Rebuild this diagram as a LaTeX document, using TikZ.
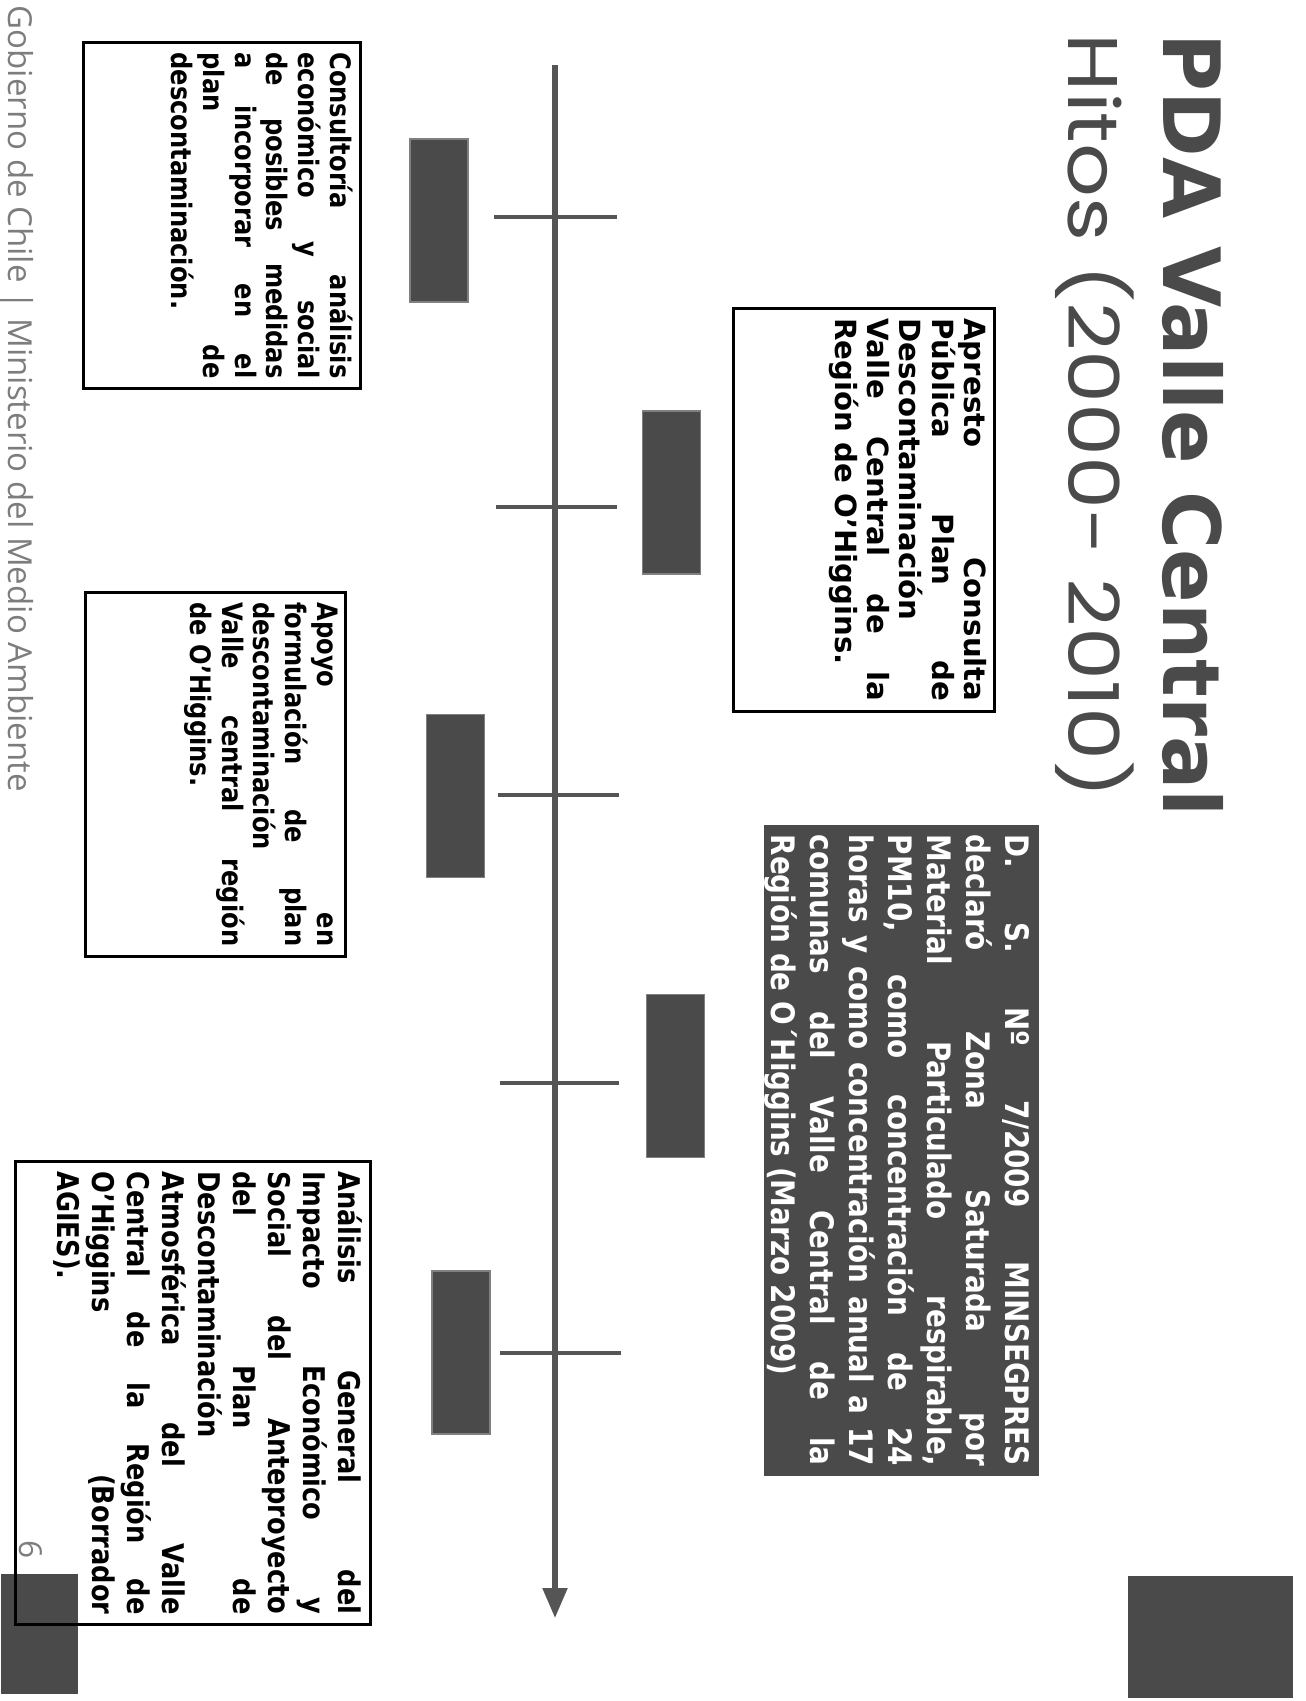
\documentclass[tikz,border=0pt]{standalone}
\usepackage{fontspec}
\setmainfont{DejaVu Sans}
\newfontfamily\tahoma{DejaVu Sans}[FakeStretch=0.86]
\newfontfamily\gothic{Poppins}[FakeStretch=1.2]
\newfontfamily\footfont{Open Sans}
\usepackage{tikz}
\usetikzlibrary{arrows.meta,shapes,positioning}
\usepackage{xcolor}
\definecolor{pdadark}{RGB}{74,74,74}
\definecolor{pdaline}{RGB}{85,85,85}
\definecolor{pdagrey}{RGB}{125,125,125}
\tikzstyle{timeline} = [line width=1.5pt,-{Triangle[length=3mm,width=2.4mm]},color=pdaline]
\tikzstyle{tick} = [line width=1.3pt,color=pdaline]
\tikzstyle{yearbox} = [rectangle, draw=pdadark!70, fill=pdadark, minimum width=1.63cm, minimum height=0.58cm, inner sep=0]
\tikzstyle{hito} = [rectangle, draw=black, thick, inner xsep=0.1cm, inner ysep=0.08cm, anchor=north west, text=black, font=\tahoma\bfseries\fontsize{8}{9}\selectfont]
\tikzstyle{decreto} = [rectangle, fill=pdadark, inner xsep=0.1cm, inner ysep=0.1cm, anchor=north west, text=white, font=\tahoma\bfseries\fontsize{9.2}{11.1}\selectfont]
\tikzstyle{corner} = [rectangle, fill=pdadark, inner sep=0, anchor=south west]
\newcommand{\jl}[1]{\makebox[\linewidth][s]{#1}\\}

\begin{document}
\begin{tikzpicture}
\useasboundingbox (0,0) rectangle (13.06,-17.01);
\begin{scope}[rotate=-90, transform shape]
% Title
\node (titulo) [anchor=base west, inner sep=0, text=pdadark, font=\bfseries\fontsize{22.5}{25}\selectfont] at (0.33,11.63) {PDA Valle Central};
\node (hitos) [anchor=base west, inner sep=0, text=pdadark, font=\gothic\fontsize{20}{22}\selectfont] at (0.33,10.68) {Hitos (2000- 2010)};

% Footer
\node (pie) [anchor=base west, inner sep=0, text=pdagrey, font=\footfont\fontsize{9.4}{11}\selectfont] at (0.05,0.08) {Gobierno de Chile | Ministerio del Medio Ambiente};
\node (pagina) [anchor=base west, inner sep=0, text=pdagrey, font=\footfont\fontsize{9}{10}\selectfont] at (15.40,0.20) {6};
\node (esquina1) [corner, minimum width=1.2cm, minimum height=0.77cm] at (15.73,0) {};
\node (esquina2) [corner, minimum width=1.22cm, minimum height=1.65cm] at (15.75,11.27) {};

% Timeline
\coordinate (inicio) at (0.65,5.55);
\coordinate (fin) at (16.18,5.55);
\draw[timeline] (inicio) -- (fin);

% Ticks
\coordinate (m1a) at (2.17,4.94);
\coordinate (m1b) at (2.17,6.17);
\coordinate (m2a) at (5.07,4.96);
\coordinate (m2b) at (5.07,6.17);
\coordinate (m3a) at (7.95,4.98);
\coordinate (m3b) at (7.95,6.19);
\coordinate (m4a) at (10.83,5.00);
\coordinate (m4b) at (10.83,6.19);
\coordinate (m5a) at (13.53,5.00);
\coordinate (m5b) at (13.53,6.21);
\draw[tick] (m1a) -- (m1b);
\draw[tick] (m2a) -- (m2b);
\draw[tick] (m3a) -- (m3b);
\draw[tick] (m4a) -- (m4b);
\draw[tick] (m5a) -- (m5b);

% Years
\node (anio1) [yearbox] at (2.205,4.39) {};
\node (anio2) [yearbox] at (4.925,6.715) {};
\node (anio3) [yearbox] at (7.96,4.555) {};
\node (anio4) [yearbox] at (10.76,6.755) {};
\node (anio5) [yearbox] at (13.525,4.61) {};

% Milestones
\node (consultoria) [hito] at (0.41,3.62) {\parbox[t][2.61cm][t]{3.26cm}{\jl{Consultoría análisis}\jl{económico y social}\jl{de posibles medidas}\jl{a incorporar en el}\jl{plan de}descontaminación.}};
\node (apresto) [hito, font=\bfseries\fontsize{8.3}{9.2}\selectfont] at (3.07,9.96) {\parbox[t][2.45cm][t]{3.83cm}{\jl{Apresto Consulta}\jl{Pública Plan de}Descontaminación\\\jl{Valle Central de la}Región de O’Higgins.}};
\node (apoyo) [hito] at (5.91,3.47) {\parbox[t][2.44cm][t]{3.44cm}{\jl{Apoyo en}\jl{formulación de plan}descontaminación\\\jl{Valle central región}de O’Higgins.}};
\node (decreto) [decreto] at (8.24,10.40) {\parbox[t][2.55cm][t]{6.31cm}{\jl{D. S. Nº 7/2009 MINSEGPRES}\jl{declaró Zona Saturada por}\jl{Material Particulado respirable,}\jl{PM10, como concentración de 24}\jl{horas y como concentración anual a 17}\jl{comunas del Valle Central de la}Región de O´Higgins (Marzo 2009)}};
\node (agies) [hito, font=\tahoma\bfseries\fontsize{8.5}{10}\selectfont] at (11.60,3.72) {\parbox[t][3.39cm][t]{4.43cm}{\jl{Análisis General del}\jl{Impacto Económico y}\jl{Social del Anteproyecto}\jl{del Plan de}Descontaminación\\\jl{Atmosférica del Valle}\jl{Central de la Región de}\jl{O’Higgins (Borrador}AGIES).}};
\end{scope}
\end{tikzpicture}
\end{document}
